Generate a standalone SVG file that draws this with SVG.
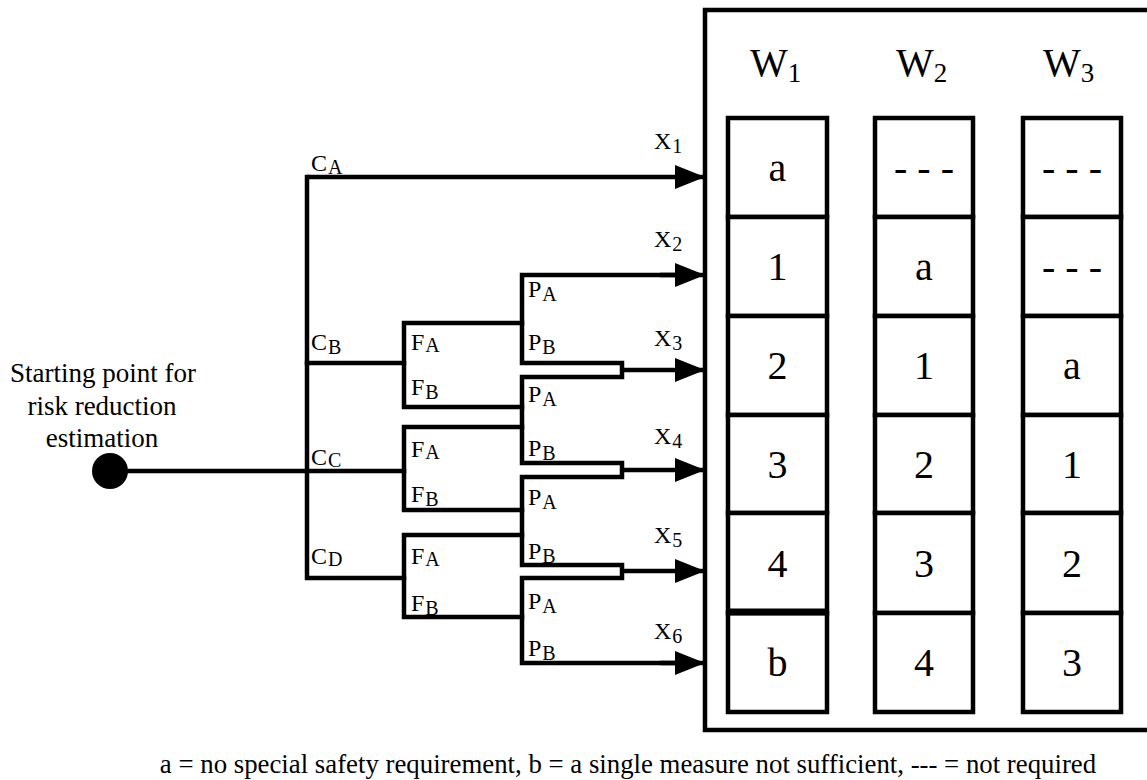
<svg xmlns="http://www.w3.org/2000/svg" width="1147" height="780" viewBox="0 0 1147 780">
<style>
text{font-family:'Liberation Serif','Times New Roman',serif;fill:#000}
.ln{fill:none;stroke:#000;stroke-width:4.5;stroke-linejoin:miter;stroke-linecap:square}
.ar{fill:none;stroke:#000;stroke-width:4.5;marker-end:url(#ah)}
.cell{fill:#fff;stroke:#000;stroke-width:4.5}
.lbl{font-size:24px}
.sub{font-size:20px}
.val{font-size:40px;text-anchor:middle}
.wh{font-size:40px}
.ws{font-size:27px}
.st{font-size:27px;text-anchor:middle}
.cap{font-size:26.8px;text-anchor:middle}
</style>
<defs>
<marker id="ah" markerUnits="userSpaceOnUse" markerWidth="30" markerHeight="24" refX="30" refY="12" orient="auto">
<path d="M0,0 L30,12 L0,24 Z" fill="#000"/>
</marker>
</defs>
<rect width="1147" height="780" fill="#fff"/>

<g id="start">
<circle cx="110" cy="471" r="18" fill="#000"/>
<text class="st" x="103" y="382">Starting point for</text>
<text class="st" x="102" y="415">risk reduction</text>
<text class="st" x="102" y="447">estimation</text>
</g>

<g id="connectors">
<path class="ln" d="M110 471 H404"/>
<path class="ln" d="M307 177 V578 H404"/>
<path class="ln" d="M307 363 H404"/>
<path class="ln" d="M522 323 H404 V407 H522"/>
<path class="ln" d="M522 427 H404 V510 H522"/>
<path class="ln" d="M522 535 H404 V617 H522"/>
<path class="ln" d="M680 275 H522 V363 H622 V377 H522 V463 H622 V477 H522 V565 H622 V578 H522 V663 H680"/>
<path class="ar" d="M307 177 H705"/>
<path class="ar" d="M660 275 H705"/>
<path class="ar" d="M622 370 H705"/>
<path class="ar" d="M622 470 H705"/>
<path class="ar" d="M622 571 H705"/>
<path class="ar" d="M660 663 H705"/>
</g>

<g id="branch-labels">
<text class="lbl" x="311" y="171">C<tspan class="sub" dx="1" dy="3">A</tspan></text>
<text class="lbl" x="311" y="350">C<tspan class="sub" dx="1" dy="4">B</tspan></text>
<text class="lbl" x="311" y="465">C<tspan class="sub" dx="1" dy="2">C</tspan></text>
<text class="lbl" x="311" y="564">C<tspan class="sub" dx="1" dy="2">D</tspan></text>

<text class="lbl" x="411" y="350">F<tspan class="sub" dx="1" dy="2">A</tspan></text>
<text class="lbl" x="411" y="395">F<tspan class="sub" dx="1" dy="4">B</tspan></text>
<text class="lbl" x="411" y="457">F<tspan class="sub" dx="1" dy="2">A</tspan></text>
<text class="lbl" x="411" y="502">F<tspan class="sub" dx="1" dy="4">B</tspan></text>
<text class="lbl" x="411" y="564">F<tspan class="sub" dx="1" dy="2">A</tspan></text>
<text class="lbl" x="411" y="611">F<tspan class="sub" dx="1" dy="4">B</tspan></text>

<text class="lbl" x="528" y="297">P<tspan class="sub" dx="1" dy="4">A</tspan></text>
<text class="lbl" x="528" y="350">P<tspan class="sub" dx="1" dy="4">B</tspan></text>
<text class="lbl" x="528" y="402">P<tspan class="sub" dx="1" dy="4">A</tspan></text>
<text class="lbl" x="528" y="456">P<tspan class="sub" dx="1" dy="4">B</tspan></text>
<text class="lbl" x="528" y="505">P<tspan class="sub" dx="1" dy="4">A</tspan></text>
<text class="lbl" x="528" y="559">P<tspan class="sub" dx="1" dy="4">B</tspan></text>
<text class="lbl" x="528" y="609">P<tspan class="sub" dx="1" dy="4">A</tspan></text>
<text class="lbl" x="528" y="656">P<tspan class="sub" dx="1" dy="4">B</tspan></text>

<text class="lbl" x="654" y="149">X<tspan class="sub" dx="1" dy="4">1</tspan></text>
<text class="lbl" x="654" y="247">X<tspan class="sub" dx="1" dy="4">2</tspan></text>
<text class="lbl" x="654" y="346">X<tspan class="sub" dx="1" dy="4">3</tspan></text>
<text class="lbl" x="654" y="444">X<tspan class="sub" dx="1" dy="4">4</tspan></text>
<text class="lbl" x="654" y="543">X<tspan class="sub" dx="1" dy="4">5</tspan></text>
<text class="lbl" x="654" y="639">X<tspan class="sub" dx="1" dy="4">6</tspan></text>
</g>

<g id="table">
<path class="ln" d="M1150 10 H705 V730 H1150" style="stroke-linecap:butt"/>
<text class="wh" x="750" y="76">W<tspan class="ws" dy="6">1</tspan></text>
<text class="wh" x="896" y="76">W<tspan class="ws" dy="6">2</tspan></text>
<text class="wh" x="1043" y="76">W<tspan class="ws" dy="6">3</tspan></text>
</g>

<g id="col-w1">
<rect class="cell" x="728" y="118" width="99" height="99"/>
<rect class="cell" x="728" y="217" width="99" height="99"/>
<rect class="cell" x="728" y="316" width="99" height="99"/>
<rect class="cell" x="728" y="415" width="99" height="98"/>
<rect class="cell" x="728" y="513" width="99" height="100"/>
<rect class="cell" x="728" y="613" width="99" height="99"/>
<line x1="728" y1="612" x2="827" y2="612" stroke="#000" stroke-width="7"/>
<text class="val" x="777.5" y="181">a</text>
<text class="val" x="777.5" y="280">1</text>
<text class="val" x="777.5" y="379">2</text>
<text class="val" x="777.5" y="478">3</text>
<text class="val" x="777.5" y="577">4</text>
<text class="val" x="777.5" y="676">b</text>
</g>

<g id="col-w2">
<rect class="cell" x="875" y="118" width="98" height="99"/>
<rect class="cell" x="875" y="217" width="98" height="99"/>
<rect class="cell" x="875" y="316" width="98" height="99"/>
<rect class="cell" x="875" y="415" width="98" height="98"/>
<rect class="cell" x="875" y="513" width="98" height="100"/>
<rect class="cell" x="875" y="613" width="98" height="99"/>
<text class="val" x="924" y="181">- - -</text>
<text class="val" x="924" y="280">a</text>
<text class="val" x="924" y="379">1</text>
<text class="val" x="924" y="478">2</text>
<text class="val" x="924" y="577">3</text>
<text class="val" x="924" y="676">4</text>
</g>

<g id="col-w3">
<rect class="cell" x="1023" y="118" width="98" height="99"/>
<rect class="cell" x="1023" y="217" width="98" height="99"/>
<rect class="cell" x="1023" y="316" width="98" height="99"/>
<rect class="cell" x="1023" y="415" width="98" height="98"/>
<rect class="cell" x="1023" y="513" width="98" height="100"/>
<rect class="cell" x="1023" y="613" width="98" height="99"/>
<text class="val" x="1072" y="181">- - -</text>
<text class="val" x="1072" y="280">- - -</text>
<text class="val" x="1072" y="379">a</text>
<text class="val" x="1072" y="478">1</text>
<text class="val" x="1072" y="577">2</text>
<text class="val" x="1072" y="676">3</text>
</g>

<g id="caption">
<text class="cap" x="628" y="773">a = no special safety requirement, b = a single measure not sufficient, --- = not required</text>
</g>
</svg>
